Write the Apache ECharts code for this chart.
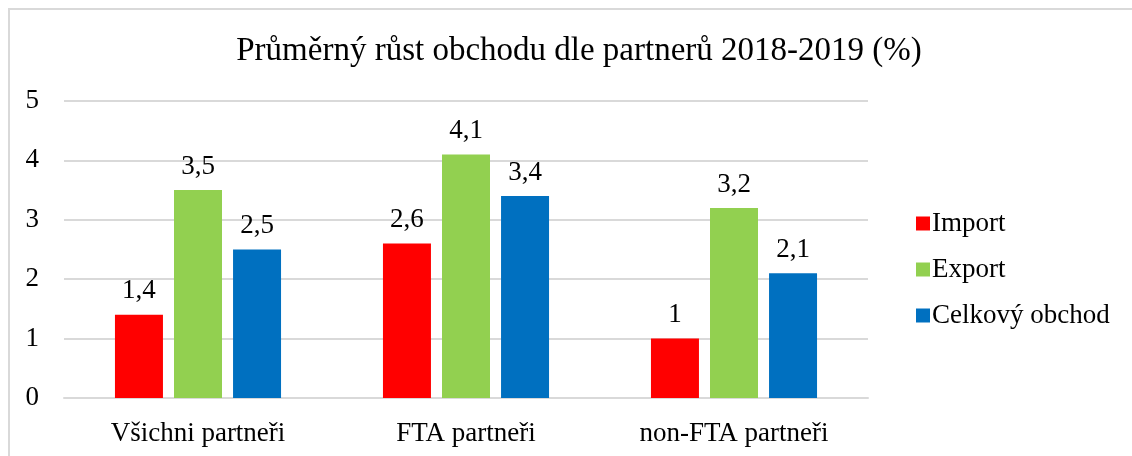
<!DOCTYPE html>
<html>
<head>
<meta charset="utf-8">
<script src="https://cdn.jsdelivr.net/npm/echarts@6/dist/echarts.min.js"></script>
<style>
    html, body { margin: 0; padding: 0; background: #fff; }
    #chart { width: 1132px; height: 456px; }
</style>
</head>
<body>
<div id="chart"></div>
<script>
    const categories = ['Všichni partneři', 'FTA partneři', 'non-FTA partneři'];
    const importData = [1.4, 2.6, 1];
    const exportData = [3.5, 4.1, 3.2];
    const totalData = [2.5, 3.4, 2.1];

    const font = '"Liberation Serif", "Times New Roman", serif';

    const myChart = echarts.init(document.getElementById('chart'));

    function barSeries(name, data, color) {
        return {
            name: name,
            type: 'bar',
            data: data,
            barWidth: 48,
            barGap: '23%',
            itemStyle: { color: color },
            label: {
                show: true,
                position: 'top',
                distance: 10,
                color: '#000',
                fontFamily: font,
                fontSize: 27,
                formatter: (p) => String(p.value).replace('.', ',')
            }
        };
    }

    const option = {
        animation: false,
        backgroundColor: '#fff',
        title: {
            text: 'Průměrný růst obchodu dle partnerů 2018-2019 (%)',
            left: 574,
            textAlign: 'center',
            top: 30,
            textStyle: {
                fontFamily: font,
                fontSize: 33,
                fontWeight: 'normal',
                color: '#000'
            }
        },
        legend: {
            orient: 'vertical',
            left: 911,
            top: 205,
            itemWidth: 14,
            itemHeight: 14,
            itemGap: 19,
            icon: 'rect',
            textStyle: {
                fontFamily: font,
                fontSize: 27,
                color: '#000',
                padding: [0, 0, 0, -3]
            },
            data: ['Import', 'Export', 'Celkový obchod']
        },
        grid: {
            top: 101,
            left: 64,
            right: 264,
            bottom: 58
        },
        xAxis: {
            type: 'category',
            data: categories,
            axisLine: { lineStyle: { color: '#d9d9d9', width: 2 } },
            axisTick: { show: false },
            axisLabel: {
                margin: 22,
                fontFamily: font,
                fontSize: 27,
                color: '#000'
            }
        },
        yAxis: {
            type: 'value',
            min: 0,
            max: 5,
            interval: 1,
            axisLine: { show: false },
            axisTick: { show: false },
            splitLine: { lineStyle: { color: '#d9d9d9', width: 2 } },
            axisLabel: {
                margin: 25,
                fontFamily: font,
                fontSize: 27,
                color: '#000'
            }
        },
        graphic: [
            {
                type: 'rect',
                shape: { x: 9, y: 9, width: 1140, height: 470 },
                style: { fill: 'none', stroke: '#d9d9d9', lineWidth: 2 },
                silent: true
            }
        ],
        series: [
            barSeries('Import', importData, '#ff0000'),
            barSeries('Export', exportData, '#92d050'),
            barSeries('Celkový obchod', totalData, '#0070c0')
        ]
    };

    myChart.setOption(option);
</script>
</body>
</html>
